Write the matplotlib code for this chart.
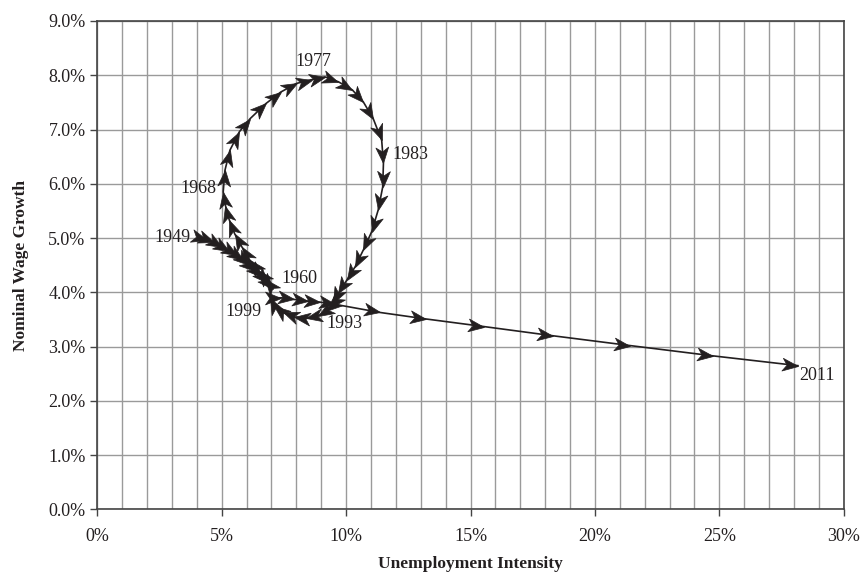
import matplotlib
matplotlib.use('Agg')
import numpy as np
import matplotlib.pyplot as plt
from matplotlib.ticker import MultipleLocator, FuncFormatter
from matplotlib.path import Path
from matplotlib.markers import MarkerStyle
from matplotlib.transforms import Affine2D

# Data (percent)
years = list(range(1949, 2012))
unemployment = [4.10, 4.40, 4.70, 5.00, 5.30, 5.60, 5.85, 6.10, 6.35, 6.60, 6.85, 7.05,   # 1949-1960
                6.75, 6.45, 6.12, 5.82, 5.52, 5.30, 5.15, 5.06,                           # 1961-1968
                5.13, 5.33, 5.71, 6.14, 6.78, 7.37, 8.01, 8.62, 9.15,                     # 1969-1977
                9.69, 10.25, 10.69, 11.09, 11.43, 11.50,                                  # 1978-1983
                11.47, 11.29, 11.03, 10.69, 10.36, 10.02, 9.69, 9.49, 9.35, 9.20,         # 1984-1993
                8.85, 8.40, 7.90, 7.45, 7.12, 6.95,                                       # 1994-1999
                7.40, 7.90, 8.45, 8.95, 9.55, 11.36,                                      # 2000-2005
                13.21, 15.54, 18.32, 21.41, 24.75, 28.16]                                 # 2006-2011
wage_growth = [5.01, 4.97, 4.92, 4.84, 4.76, 4.68, 4.60, 4.50, 4.40, 4.29, 4.17, 4.07,
               4.24, 4.41, 4.60, 4.83, 5.08, 5.34, 5.60, 5.85,
               6.25, 6.62, 6.96, 7.20, 7.48, 7.69, 7.85, 7.92, 7.97,
               7.88, 7.73, 7.51, 7.20, 6.80, 6.38,
               5.94, 5.52, 5.12, 4.78, 4.47, 4.22, 3.98, 3.80, 3.72, 3.66,
               3.56, 3.52, 3.55, 3.63, 3.75, 3.90,
               3.90, 3.87, 3.84, 3.82, 3.78, 3.63,
               3.51, 3.37, 3.20, 3.02, 2.83, 2.65]

# labelled years and where their text sits (offset in pixels, alignment)
label_years = [1949, 1960, 1968, 1977, 1983, 1993, 1999, 2011]
label_offsets = [(-9, 0), (9, 10), (-7, 3), (-12, 15), (9, 9), (0, -13), (-9, -14), (1, -10)]
label_align = ['right', 'left', 'right', 'center', 'left', 'left', 'right', 'left']

ink = '#231f20'
plt.rcParams['font.family'] = ['Liberation Serif', 'DejaVu Serif']

fig = plt.figure(figsize=(8.62, 5.72), dpi=100)
ax = fig.add_axes([0.1129, 0.1093, 0.8659, 0.854])

ax.set_xlim(0, 30)
ax.set_ylim(0, 9)
ax.xaxis.set_major_locator(MultipleLocator(5))
ax.xaxis.set_minor_locator(MultipleLocator(1))
ax.yaxis.set_major_locator(MultipleLocator(1))
ax.xaxis.set_major_formatter(FuncFormatter(lambda v, p: '{:.0f}%'.format(v)))
ax.yaxis.set_major_formatter(FuncFormatter(lambda v, p: '{:.1f}%'.format(v)))

ax.grid(True, which='both', axis='x', color='#9a9a9a', lw=1.0)
ax.grid(True, which='major', axis='y', color='#9a9a9a', lw=1.0)
ax.set_axisbelow(True)
ax.tick_params(which='major', direction='out', length=5, width=1, color='#444444',
               labelsize=13, labelcolor=ink)
ax.tick_params(axis='x', which='major', pad=8)
ax.tick_params(which='minor', length=0)
for s in ax.spines.values():
    s.set_color('#444444')
    s.set_linewidth(1.2)

# path line
ax.plot(unemployment, wage_growth, color=ink, lw=1.2, zorder=3)

# stealth arrowhead, tip at (0, 0), pointing along +x
head = Path([(0, 0), (-1, 0.4), (-0.72, 0), (-1, -0.4), (0, 0)],
            [Path.MOVETO, Path.LINETO, Path.LINETO, Path.LINETO, Path.CLOSEPOLY])
for i in range(len(years) - 1):
    p0 = ax.transData.transform((unemployment[i], wage_growth[i]))
    p1 = ax.transData.transform((unemployment[i + 1], wage_growth[i + 1]))
    ang = np.arctan2(p1[1] - p0[1], p1[0] - p0[0])
    m = MarkerStyle(head, transform=Affine2D().rotate(ang))
    ax.plot(unemployment[i + 1], wage_growth[i + 1], marker=m, ms=23,
            color=ink, mec=ink, mew=0.5, ls='none', zorder=4)

for yr, off, ha in zip(label_years, label_offsets, label_align):
    i = years.index(yr)
    ax.annotate(str(yr), xy=(unemployment[i], wage_growth[i]), xytext=off,
                textcoords='offset pixels', ha=ha, va='center', fontsize=13, color=ink)

ax.set_xlabel('Unemployment Intensity', fontsize=12.5, fontweight='bold', color=ink, labelpad=8)
ax.set_ylabel('Nominal Wage Growth', fontsize=12.5, fontweight='bold', color=ink, labelpad=14)

fig.savefig('out.png', dpi=100)
